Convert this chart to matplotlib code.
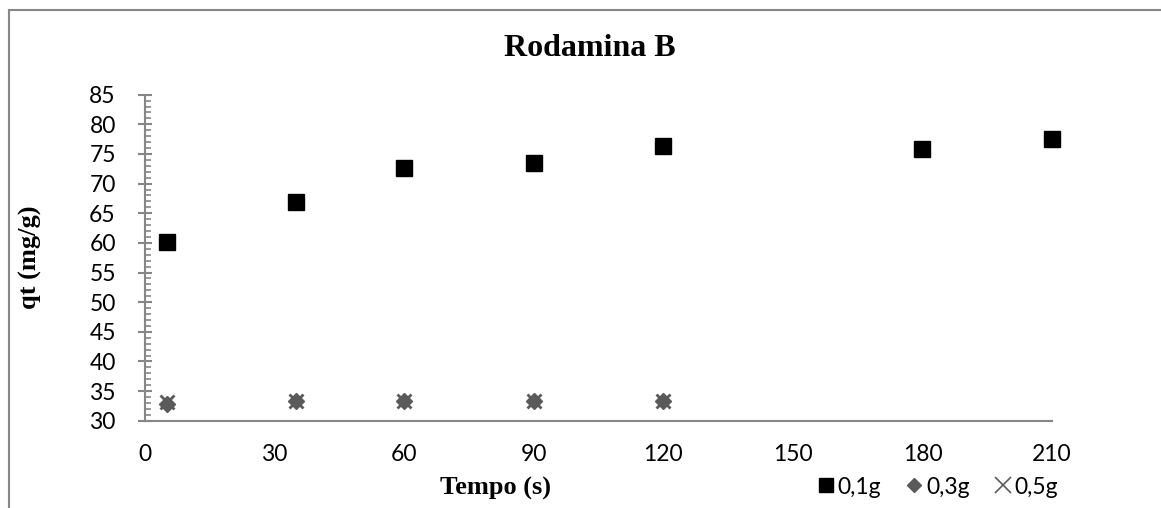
import matplotlib
matplotlib.use("Agg")
import matplotlib.pyplot as plt
from matplotlib.lines import Line2D
from matplotlib.ticker import MultipleLocator

# ---- data ----
time_01 = [5, 35, 60, 90, 120, 180, 210]
qt_01 = [60.2, 66.9, 72.6, 73.4, 76.4, 75.8, 77.5]
time_03 = [5, 35, 60, 90, 120]
qt_03 = [32.8, 33.4, 33.4, 33.4, 33.4]
time_05 = [5, 35, 60, 90, 120]
qt_05 = [33.2, 33.4, 33.4, 33.4, 33.4]
series_labels = ["0,1g", "0,3g", "0,5g"]
title = "Rodamina B"
xlabel = "Tempo (s)"
ylabel = "qt (mg/g)"
xticks = [0, 30, 60, 90, 120, 150, 180, 210]
yticks = [30, 35, 40, 45, 50, 55, 60, 65, 70, 75, 80, 85]

W, H = 1161, 508
fig = plt.figure(figsize=(W / 100, H / 100), dpi=100)
ax = fig.add_axes([145 / W, 1 - 420.7 / H, (1052 - 145) / W, (420.7 - 94.7) / H])

axis_gray = "#868686"
marker_gray = "#5a5a5a"
tick_font = "Lato"
serif = "Liberation Serif"
tick_size = 16.5

ax.plot(time_01, qt_01, linestyle="none", marker="s", color="black",
        markersize=11, markeredgecolor="black", label=series_labels[0],
        zorder=3, clip_on=False)
ax.plot(time_03, qt_03, linestyle="none", marker="D", color=marker_gray,
        markersize=8.5, markeredgecolor=marker_gray, label=series_labels[1],
        zorder=3, clip_on=False)
ax.plot(time_05, qt_05, linestyle="none", marker="x", color=marker_gray,
        markersize=10, markeredgewidth=2, label=series_labels[2], zorder=4,
        clip_on=False)

ax.set_xlim(0, 210)
ax.set_ylim(30, 85)
ax.set_xticks(xticks)
ax.set_yticks(yticks)
ax.yaxis.set_minor_locator(MultipleLocator(1))

for s in ["top", "right"]:
    ax.spines[s].set_visible(False)
for s in ["left", "bottom"]:
    ax.spines[s].set_color(axis_gray)
    ax.spines[s].set_linewidth(1.5)

ax.tick_params(axis="x", which="both", length=0, pad=17, labelsize=tick_size)
ax.tick_params(axis="y", which="major", direction="inout", length=10, width=1.5,
               color=axis_gray, pad=16, labelsize=tick_size)
ax.tick_params(axis="y", which="minor", direction="in", length=4, width=1.2,
               color=axis_gray)
for lab in ax.get_xticklabels() + ax.get_yticklabels():
    lab.set_fontfamily(tick_font)

fig.text(590 / W, 1 - 48 / H, title, ha="center", va="center",
         fontsize=23, fontweight="bold", family=serif)
fig.text(496 / W, 1 - 488 / H, xlabel, ha="center", va="center",
         fontsize=19, fontweight="bold", family=serif)
fig.text(30 / W, 1 - 257 / H, ylabel, ha="center", va="center", rotation=90,
         fontsize=19, fontweight="bold", family=serif)

handles = [
    Line2D([], [], linestyle="none", marker="s", color="black", markersize=10.5),
    Line2D([], [], linestyle="none", marker="D", color=marker_gray, markersize=7.5),
    Line2D([], [], linestyle="none", marker="x", color=marker_gray, markersize=11,
           markeredgewidth=1.2),
]
fig.legend(handles, series_labels, loc="center", bbox_to_anchor=(938 / W, 1 - 487 / H),
           ncol=3, frameon=False, handlelength=0.7, handletextpad=0.15,
           columnspacing=1.1, borderpad=0, prop={"family": tick_font, "size": tick_size})

# outer chart border (only left and top visible in the crop)
fig.add_artist(Line2D([9 / W, 9 / W], [0, 1 - 10 / H], color=axis_gray, lw=1.5,
                      transform=fig.transFigure))
fig.add_artist(Line2D([9 / W, 1], [1 - 10 / H, 1 - 10 / H], color=axis_gray, lw=1.5,
                      transform=fig.transFigure))

fig.savefig("out.png", dpi=100)
